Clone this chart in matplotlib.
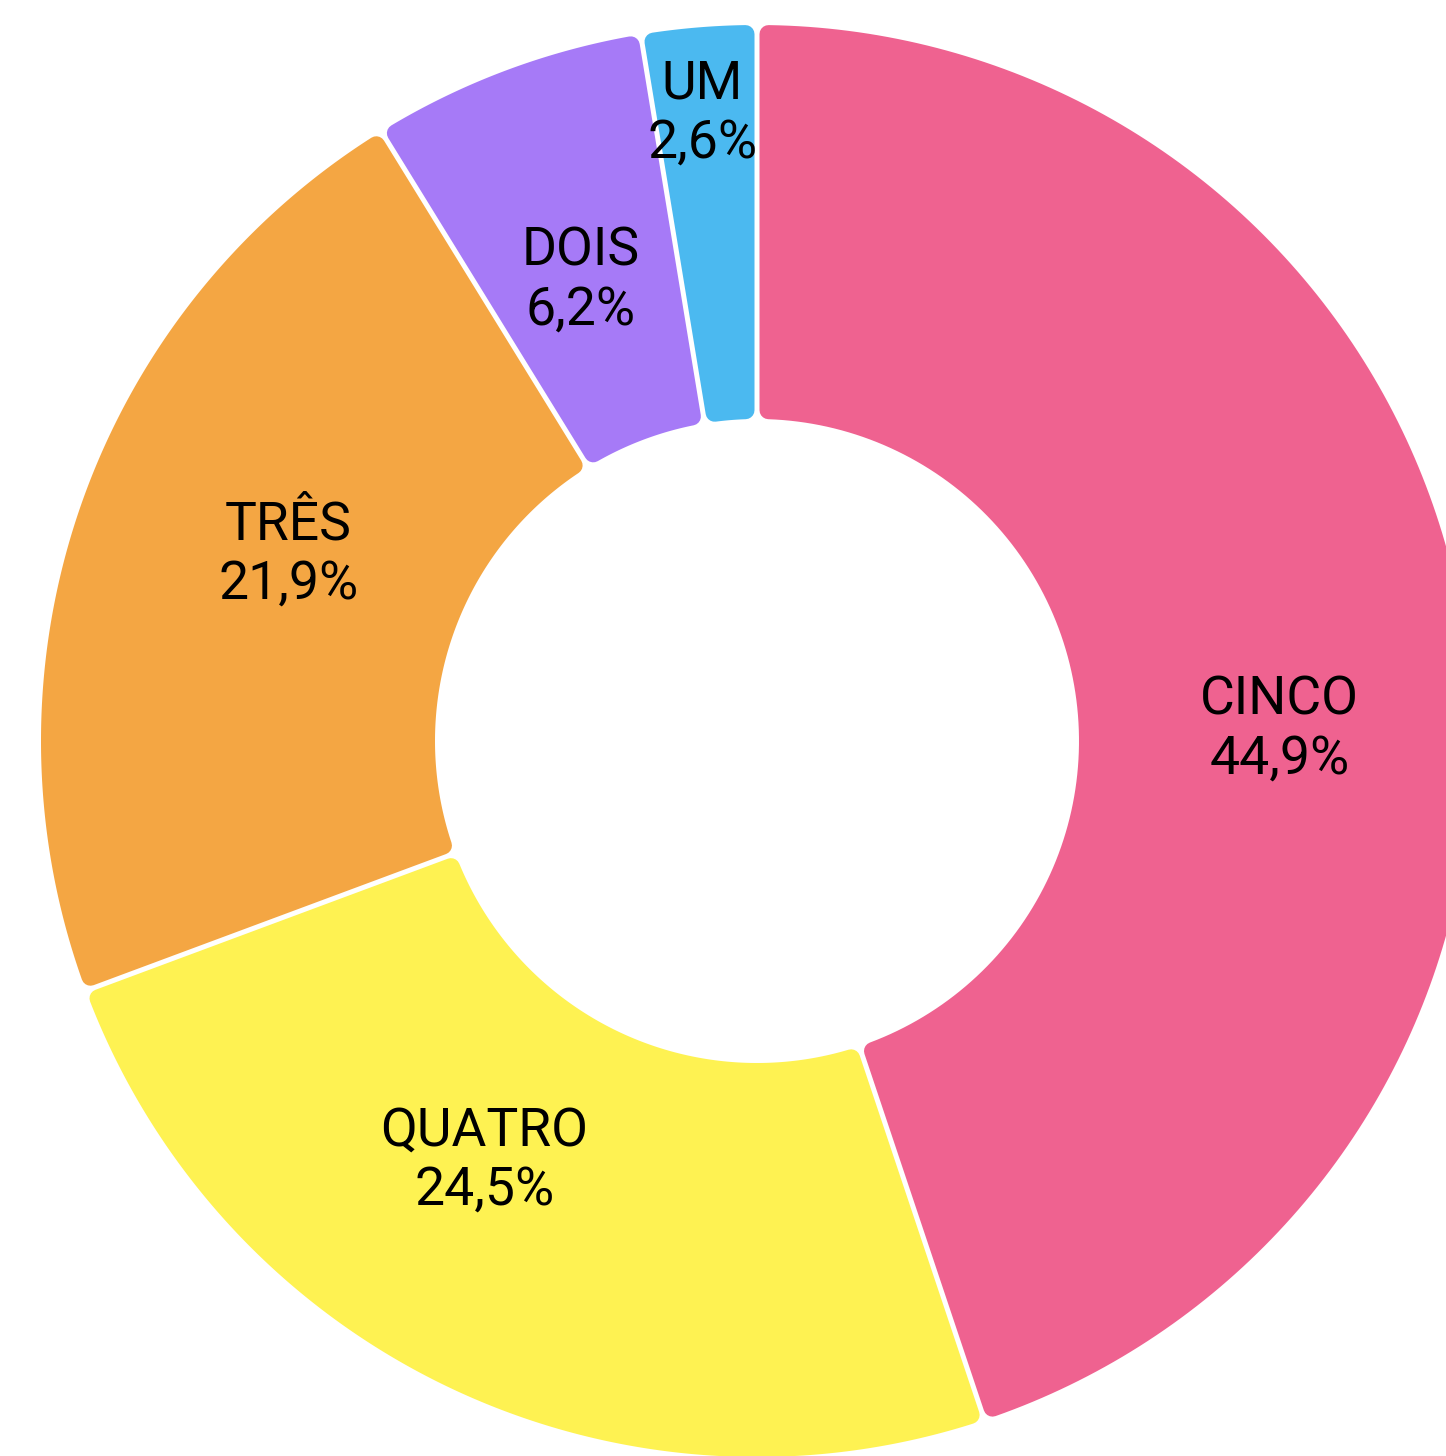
import numpy as np
import matplotlib
matplotlib.use("Agg")
import matplotlib.pyplot as plt
from matplotlib.patches import Polygon

# Slice data, clockwise from 12 o'clock
categories = ["CINCO", "QUATRO", "TRÊS", "DOIS", "UM"]
values = [44.9, 24.5, 21.9, 6.2, 2.6]
colors = ["#EF6290", "#FEF252", "#F4A643", "#A67AF7", "#4BB9F0"]

# Label placement (polar, relative to the ring centre): radius and angular nudge
label_radius = [523, 500, 504, 493, 630]
label_nudge_deg = [8.0, 7.5, 2.7, -0.5, -0.3]

W, H, DPI = 1446, 1456, 100
fig = plt.figure(figsize=(W / DPI, H / DPI), dpi=DPI)
ax = fig.add_axes([0, 0, 1, 1])
ax.set_xlim(0, W)
ax.set_ylim(0, H)
ax.set_aspect("equal")
ax.axis("off")

cx, cy = 757.0, H - 741.0
R_out, R_in = 716.0, 322.0
gap = 5.0        # white separation between slices
corner = 9.0     # rounded-corner radius


def point(rho, theta_deg):
    t = np.radians(theta_deg)
    return cx + rho * np.sin(t), cy + rho * np.cos(t)


def rounded_ring_wedge(t1, t2, color):
    d = gap / 2 + corner
    ro, ri = R_out - corner, R_in + corner
    a_o = np.degrees(np.arcsin(d / ro))
    a_i = np.degrees(np.arcsin(d / ri))
    outer = np.linspace(t1 + a_o, t2 - a_o, 200)
    inner = np.linspace(t2 - a_i, t1 + a_i, 120)
    pts = [point(ro, t) for t in outer] + [point(ri, t) for t in inner]
    lw_pt = 2 * corner * 72 / DPI
    ax.add_patch(Polygon(pts, closed=True, facecolor=color, edgecolor=color,
                         linewidth=lw_pt, joinstyle="round", antialiased=True))


total = sum(values)
start = 0.0
for name, v, col, lr, nudge in zip(categories, values, colors,
                                   label_radius, label_nudge_deg):
    span = 360.0 * v / total
    rounded_ring_wedge(start, start + span, col)
    mid = start + span / 2 + nudge
    lx, ly = point(lr, mid)
    txt = f"{name}\n{v:.1f}%".replace(".", ",")
    ax.text(lx, ly, txt, ha="center", va="center", fontsize=38.5,
            family=["Roboto", "DejaVu Sans"], color="black", linespacing=1.2)
    start += span

fig.savefig("out.png", dpi=DPI, facecolor="white")
